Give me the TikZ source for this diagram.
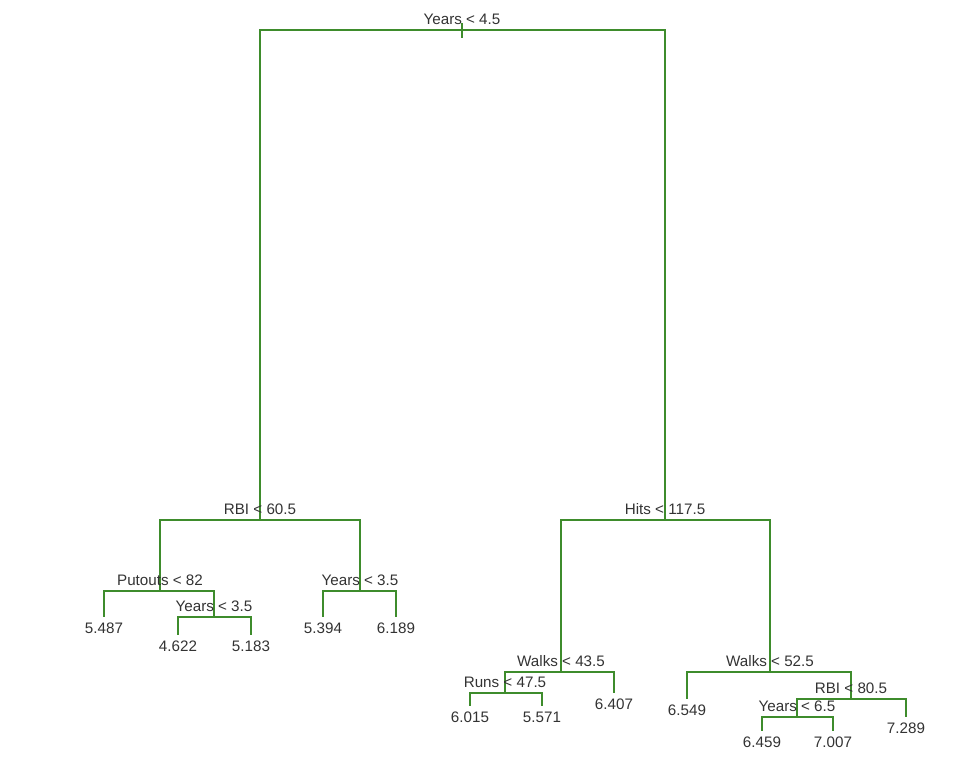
\documentclass[tikz,border=0pt]{standalone}
\usepackage{fontspec}
\setmainfont{Liberation Sans}
\definecolor{treegreen}{RGB}{62,140,44}
\definecolor{labelgray}{RGB}{51,51,51}

\begin{document}
\begin{tikzpicture}[x=0.75pt,y=-0.75pt]
	\tikzset{edge/.style={treegreen, line width=0.85pt}}
	\tikzset{split/.style={anchor=base, inner sep=0pt, text=labelgray, font=\fontsize{11.4}{13}\selectfont, yshift=3.9pt}}
	\tikzset{leaf/.style={anchor=base, inner sep=0pt, text=labelgray, font=\fontsize{11.4}{13}\selectfont, yshift=-12.4pt}}
	
	\useasboundingbox (0,0) rectangle (964,763);
	
	% splits
	\coordinate (years1) at (462,30);
	\coordinate (rbi1) at (260,520);
	\coordinate (hits1) at (665,520);
	\coordinate (putouts1) at (160,591);
	\coordinate (years2) at (214,617);
	\coordinate (years3) at (360,591);
	\coordinate (walks1) at (561,672);
	\coordinate (runs1) at (505,693);
	\coordinate (walks2) at (770,672);
	\coordinate (rbi2) at (851,699);
	\coordinate (years4) at (797,717);
	
	% leaves
	\coordinate (leaf1) at (104,617);
	\coordinate (leaf2) at (178,635);
	\coordinate (leaf3) at (251,635);
	\coordinate (leaf4) at (323,617);
	\coordinate (leaf5) at (396,617);
	\coordinate (leaf6) at (470,706);
	\coordinate (leaf7) at (542,706);
	\coordinate (leaf8) at (614,693);
	\coordinate (leaf9) at (687,699);
	\coordinate (leaf10) at (762,731);
	\coordinate (leaf11) at (833,731);
	\coordinate (leaf12) at (906,717);
	
	\coordinate (stem_top) at (462,23);
	\coordinate (stem_bot) at (462,38);
	\draw[edge] (stem_top) -- (stem_bot);
	
	\draw[edge] (years1) -| (rbi1);
	\draw[edge] (years1) -| (hits1);
	\draw[edge] (rbi1) -| (putouts1);
	\draw[edge] (rbi1) -| (years3);
	\draw[edge] (putouts1) -| (leaf1);
	\draw[edge] (putouts1) -| (years2);
	\draw[edge] (years2) -| (leaf2);
	\draw[edge] (years2) -| (leaf3);
	\draw[edge] (years3) -| (leaf4);
	\draw[edge] (years3) -| (leaf5);
	\draw[edge] (hits1) -| (walks1);
	\draw[edge] (hits1) -| (walks2);
	\draw[edge] (walks1) -| (runs1);
	\draw[edge] (walks1) -| (leaf8);
	\draw[edge] (runs1) -| (leaf6);
	\draw[edge] (runs1) -| (leaf7);
	\draw[edge] (walks2) -| (leaf9);
	\draw[edge] (walks2) -| (rbi2);
	\draw[edge] (rbi2) -| (years4);
	\draw[edge] (rbi2) -| (leaf12);
	\draw[edge] (years4) -| (leaf10);
	\draw[edge] (years4) -| (leaf11);
	
	\node[split] (years1_lbl) at (years1) {Years < 4.5};
	\node[split] (rbi1_lbl) at (rbi1) {RBI < 60.5};
	\node[split] (hits1_lbl) at (hits1) {Hits < 117.5};
	\node[split] (putouts1_lbl) at (putouts1) {Putouts < 82};
	\node[split] (years2_lbl) at (years2) {Years < 3.5};
	\node[split] (years3_lbl) at (years3) {Years < 3.5};
	\node[split] (walks1_lbl) at (walks1) {Walks < 43.5};
	\node[split] (runs1_lbl) at (runs1) {Runs < 47.5};
	\node[split] (walks2_lbl) at (walks2) {Walks < 52.5};
	\node[split] (rbi2_lbl) at (rbi2) {RBI < 80.5};
	\node[split] (years4_lbl) at (years4) {Years < 6.5};
	
	\node[leaf] (leaf1_val) at (leaf1) {5.487};
	\node[leaf] (leaf2_val) at (leaf2) {4.622};
	\node[leaf] (leaf3_val) at (leaf3) {5.183};
	\node[leaf] (leaf4_val) at (leaf4) {5.394};
	\node[leaf] (leaf5_val) at (leaf5) {6.189};
	\node[leaf] (leaf6_val) at (leaf6) {6.015};
	\node[leaf] (leaf7_val) at (leaf7) {5.571};
	\node[leaf] (leaf8_val) at (leaf8) {6.407};
	\node[leaf] (leaf9_val) at (leaf9) {6.549};
	\node[leaf] (leaf10_val) at (leaf10) {6.459};
	\node[leaf] (leaf11_val) at (leaf11) {7.007};
	\node[leaf] (leaf12_val) at (leaf12) {7.289};
	
\end{tikzpicture}
\end{document}
